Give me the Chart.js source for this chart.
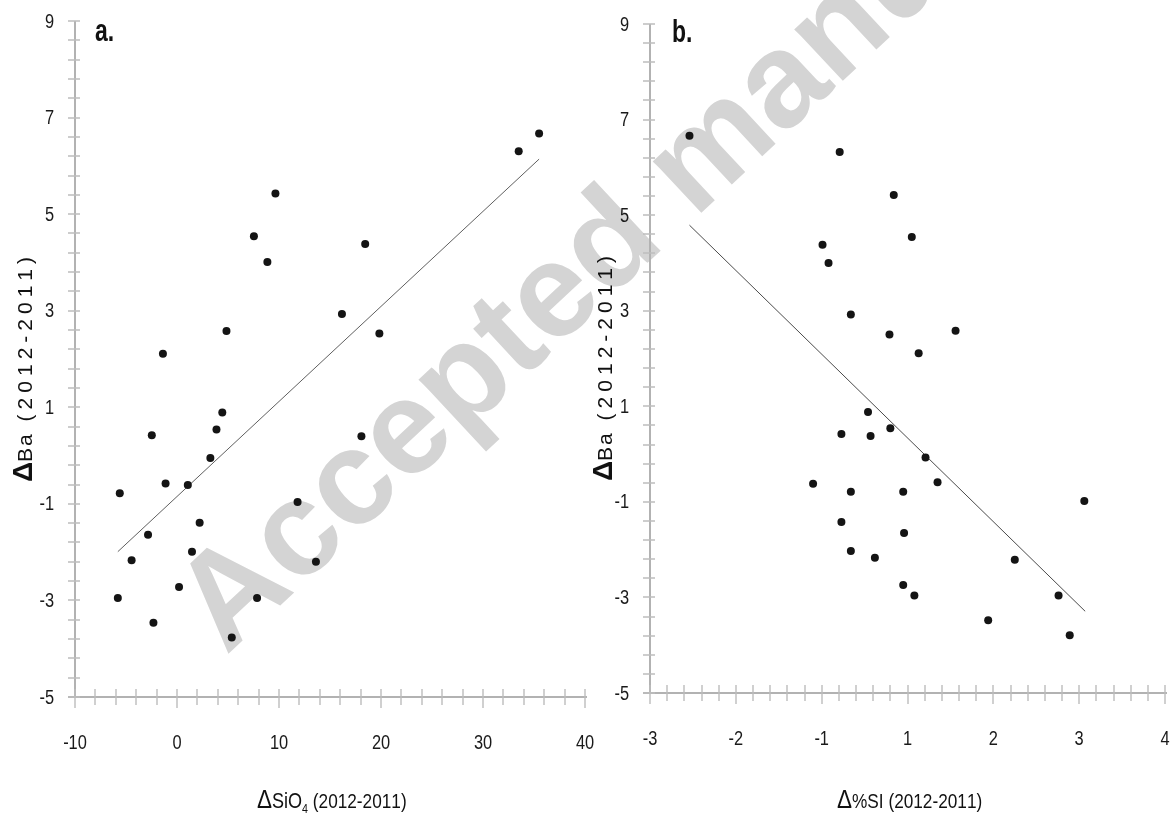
<!DOCTYPE html>
<html>
<head>
<meta charset="utf-8">
<title>ΔBa (2012-2011)</title>
<script src="https://cdn.jsdelivr.net/npm/chart.js@4.4.1/dist/chart.umd.min.js"></script>
<style>
  html, body { margin: 0; padding: 0; background: #fff; }
  #wrap { position: relative; width: 1173px; height: 820px; overflow: hidden; }
  canvas { position: absolute; top: 0; }
  #stamp { left: 0; }
  #panelA { left: 0; }
  #panelB { left: 583px; }
</style>
</head>
<body>
<div id="wrap">
  <canvas id="stamp" width="1173" height="820"></canvas>
  <canvas id="panelA" width="600" height="820"></canvas>
  <canvas id="panelB" width="590" height="820"></canvas>
</div>
<script>
// Station changes between the 2011 and 2012 surveys.
const siO4Change = [35.5, 33.5, 9.65, 7.54, 18.45, 8.86, 16.17, 4.85, 19.84, -1.38, 4.44, -2.47, 3.87, 18.08, 3.27,
    -1.12, 1.06, -5.61, 11.82, 2.22, -2.84, -4.45, 1.47, 13.62, 0.2, -5.8, 7.85, -2.31, 5.37];
const baChangeA = [6.67, 6.30, 5.43, 4.54, 4.38, 4.01, 2.93, 2.58, 2.53, 2.11, 0.89, 0.42, 0.54, 0.40, -0.05,
    -0.58, -0.61, -0.78, -0.96, -1.39, -1.64, -2.17, -1.99, -2.20, -2.72, -2.95, -2.95, -3.46, -3.77];

// %SI is plotted on a -3..3 scale; the tick labels carry the printed values.
const siChange = [-2.54, -0.79, -0.16, 0.05, -0.99, -0.92, -0.66, -0.21, 0.56, 0.13, -0.46, -0.77, -0.43, -0.20, 0.21,
    -1.10, 0.35, -0.66, -0.05, 2.06, -0.77, -0.04, -0.66, -0.38, 1.25, -0.05, 0.08, 1.76, 0.94, 1.89];
const baChangeB = [6.66, 6.32, 5.42, 4.54, 4.38, 4.00, 2.92, 2.50, 2.58, 2.11, 0.88, 0.42, 0.38, 0.54, -0.07,
    -0.62, -0.59, -0.79, -0.79, -0.98, -1.42, -1.65, -2.03, -2.17, -2.21, -2.74, -2.96, -2.96, -3.48, -3.79];

// Least-squares lines, end points
const fitAx = [-5.8, 35.5];
const fitAy = [-1.99, 6.14];
const fitBx = [-2.54, 2.07];
const fitBy = [4.79, -3.29];

const siO4TickLabels = ['-10', '0', '10', '20', '30', '40'];
const siTickLabels = ['-3', '-2', '-1', '1', '2', '3', '4'];
const baTickLabels = ['-5', '-3', '-1', '1', '3', '5', '7', '9'];

const SANS = '"Liberation Sans", Arial, sans-serif';
const SQUEEZE = 0.82;   // horizontal squeeze that gives the narrow face

// draws a run list left to right; each run may be squeezed, spaced or shifted
function drawRuns(ctx, runs, x, y, measureOnly) {
    let cx = x;
    runs.forEach((r) => {
        ctx.font = r.font;
        const sq = r.squeeze || 1;
        const sp = r.spacing || 0;
        for (const ch of r.text) {
            const w = ctx.measureText(ch).width * sq;
            if (!measureOnly) {
                ctx.save();
                ctx.translate(cx, y + (r.shift || 0));
                ctx.scale(sq, 1);
                ctx.fillText(ch, 0, 0);
                ctx.restore();
            }
            cx += w + sp;
        }
    });
    return cx - x;
}

function narrowText(ctx, text, x, y, align) {
    ctx.save();
    ctx.translate(x, y);
    ctx.scale(SQUEEZE, 1);
    ctx.textAlign = align;
    ctx.fillText(text, 0, 0);
    ctx.restore();
}

// axis lines with ticks that cross the axis, plus the narrow tick labels
function axisFrame(f) {
    return {
        id: 'axisFrame',
        beforeDatasetsDraw(chart) {
            const { ctx, chartArea } = chart;
            const xs = chart.scales.x, ys = chart.scales.y;
            const x0 = chartArea.left, y0 = Math.round(chartArea.bottom);
            ctx.save();
            ctx.strokeStyle = '#b2b2b2';
            ctx.lineWidth = 2;
            ctx.beginPath();
            ctx.moveTo(x0, chartArea.top);
            ctx.lineTo(x0, y0);
            ctx.moveTo(x0 - 7, y0);
            ctx.lineTo(chartArea.right + 2, y0);
            ctx.stroke();

            ctx.strokeStyle = '#bdbdbd';
            ctx.lineWidth = 1.4;
            ctx.beginPath();
            for (let k = 0; k <= f.yCount; k++) {
                const py = Math.round(ys.getPixelForValue(ys.min + k * f.yStep));
                ctx.moveTo(x0 - 7, py);
                ctx.lineTo(x0 + 5, py);
            }
            for (let k = 0; k <= f.xCount; k++) {
                const px = Math.round(xs.getPixelForValue(xs.min + k * f.xStep));
                const major = k % f.xPerMajor === 0;
                ctx.moveTo(px, y0 - 8);
                ctx.lineTo(px, y0 + (major ? 11 : 8));
            }
            ctx.stroke();

            ctx.fillStyle = '#1a1a1a';
            ctx.font = '20px ' + SANS;
            ctx.textBaseline = 'middle';
            xs.ticks.forEach((t, i) => {
                narrowText(ctx, f.xLabels[i], xs.getPixelForValue(t.value), y0 + 46, 'center');
            });
            ys.ticks.forEach((t, i) => {
                narrowText(ctx, baTickLabels[i], x0 - 21, ys.getPixelForValue(t.value) + 1, 'right');
            });
            ctx.restore();
        }
    };
}

// panel letter and the two axis captions
function captions(c) {
    return {
        id: 'captions',
        afterDraw(chart) {
            const ctx = chart.ctx;
            ctx.save();
            ctx.fillStyle = '#111';
            ctx.textBaseline = 'alphabetic';
            ctx.textAlign = 'left';

            drawRuns(ctx, [{ text: c.letter, font: 'bold 31px ' + SANS, squeeze: 0.74 }], c.letterX, c.letterY);
            drawRuns(ctx, c.xRuns, c.xStart, c.xBase);

            ctx.translate(c.yBase, c.yCenter);
            ctx.rotate(-Math.PI / 2);
            const yw = drawRuns(ctx, c.yRuns, 0, 0, true);
            drawRuns(ctx, c.yRuns, -yw / 2, 0);
            ctx.restore();
        }
    };
}

const baTitle = [
    { text: 'Δ', font: 'bold 28px ' + SANS },
    { text: 'Ba', font: '21px ' + SANS, spacing: 2 },
    { text: ' (2012-2011)', font: '21px ' + SANS, spacing: 5 }
];

function makeScales(cfg) {
    return {
        x: {
            type: 'linear',
            min: cfg.xMin, max: cfg.xMax,
            grid: { display: false, drawTicks: false },
            border: { display: false },
            ticks: { stepSize: cfg.xMajor, autoSkip: false, maxRotation: 0, display: false },
            afterFit: (s) => { s.height = cfg.xHeight; }
        },
        y: {
            type: 'linear',
            min: -5, max: 9,
            grid: { display: false, drawTicks: false },
            border: { display: false },
            ticks: { stepSize: 2, autoSkip: false, display: false },
            afterFit: (s) => { s.width = cfg.yWidth; }
        }
    };
}

function makePanel(canvasId, xs, ys, fx, fy, cfg, caption) {
    return new Chart(document.getElementById(canvasId).getContext('2d'), {
        type: 'scatter',
        data: {
            datasets: [
                {
                    data: xs.map((x, i) => ({ x, y: ys[i] })),
                    pointRadius: 4, pointHoverRadius: 4,
                    backgroundColor: '#141414', borderWidth: 0
                },
                {
                    type: 'line',
                    data: fx.map((x, i) => ({ x, y: fy[i] })),
                    borderColor: cfg.fitColor, borderWidth: 1,
                    pointRadius: 0, fill: false, tension: 0
                }
            ]
        },
        options: {
            responsive: false,
            animation: false,
            devicePixelRatio: 1,
            layout: { autoPadding: false, padding: cfg.padding },
            plugins: { legend: { display: false }, tooltip: { enabled: false } },
            scales: makeScales(cfg)
        },
        plugins: [axisFrame(cfg.frame), captions(caption)]
    });
}

makePanel('panelA', siO4Change, baChangeA, fitAx, fitAy, {
    xMin: -10, xMax: 40, xMajor: 10, fitColor: '#5f5f5f',
    xHeight: 123, yWidth: 75,
    padding: { top: 21, right: 15, left: 0, bottom: 0 },
    frame: { yStep: 0.4, yCount: 35, xStep: 2, xCount: 25, xPerMajor: 5, xLabels: siO4TickLabels }
}, {
    letter: 'a.', letterX: 95, letterY: 41,
    xStart: 257, xBase: 808,
    xRuns: [
        { text: 'Δ', font: '25px ' + SANS, squeeze: 0.9 },
        { text: 'SiO', font: '22px ' + SANS, squeeze: SQUEEZE },
        { text: '4', font: '13px ' + SANS, squeeze: SQUEEZE, shift: 5 },
        { text: ' (2012-2011)', font: '21px ' + SANS, squeeze: SQUEEZE }
    ],
    yBase: 32, yCenter: 367, yRuns: baTitle
});

makePanel('panelB', siChange, baChangeB, fitBx, fitBy, {
    xMin: -3, xMax: 3, xMajor: 1, fitColor: '#4a4a4a',
    xHeight: 127, yWidth: 67,
    padding: { top: 24, right: 8, left: 0, bottom: 0 },
    frame: { yStep: 0.4, yCount: 35, xStep: 0.2, xCount: 30, xPerMajor: 5, xLabels: siTickLabels }
}, {
    letter: 'b.', letterX: 89, letterY: 42,
    xStart: 254, xBase: 808,
    xRuns: [
        { text: 'Δ', font: '25px ' + SANS, squeeze: 0.9 },
        { text: '%SI', font: '21px ' + SANS, squeeze: SQUEEZE },
        { text: ' (2012-2011)', font: '21px ' + SANS, squeeze: SQUEEZE }
    ],
    yBase: 29, yCenter: 366, yRuns: baTitle
});

// "Accepted manuscript" stamp behind both panels
const stamp = document.getElementById('stamp').getContext('2d');
stamp.save();
stamp.translate(226, 656);
stamp.rotate(-43 * Math.PI / 180);
stamp.font = 'bold 134px ' + SANS;
stamp.fillStyle = '#d4d4d4';
stamp.fillText('Accepted manuscript', 0, 0);
stamp.restore();
</script>
</body>
</html>
